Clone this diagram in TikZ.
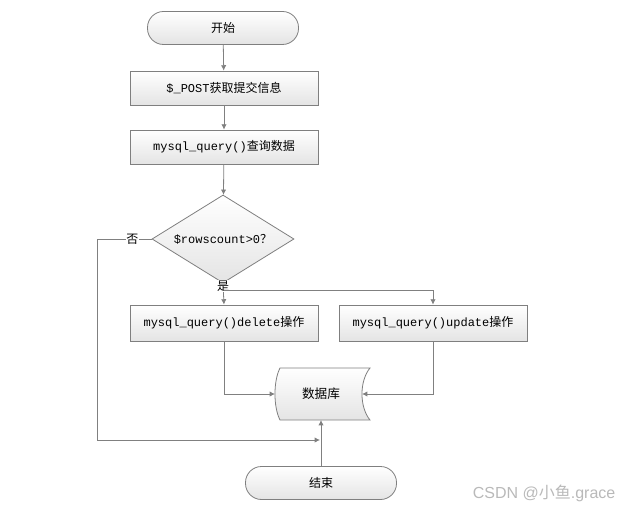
\documentclass[tikz,border=0pt]{standalone}
\usepackage{fontspec}
\setmainfont{Liberation Sans}
\newfontfamily\cjk{Noto Sans CJK SC}
\newfontfamily\mono{Liberation Mono}
\usetikzlibrary{arrows.meta,shapes.geometric}
\definecolor{edgegray}{HTML}{7F7F7F}
\definecolor{linegray}{HTML}{808080}
\definecolor{shadegray}{HTML}{E4E4E4}
\tikzset{
  shp/.style={draw=edgegray, line width=0.6pt, top color=white, bottom color=shadegray, font=\fontsize{9pt}{11pt}\selectfont, inner sep=0pt},
  term/.style={shp, rounded corners=12pt, minimum width=113.25pt, minimum height=24.75pt},
  proc/.style={shp, minimum width=141pt, minimum height=25.5pt},
  proc2/.style={shp, minimum width=141pt, minimum height=27pt},
  deci/.style={shp, diamond, minimum width=106.5pt, minimum height=66pt},
  txt/.style={inner sep=0pt, font=\fontsize{9pt}{11pt}\selectfont},
  arr/.style={draw=linegray, line width=0.6pt, -{Latex[length=4pt,width=4pt]}},
  lbl/.style={fill=white, inner sep=0.6pt, font=\cjk\fontsize{9pt}{11pt}\selectfont},
}
\begin{document}
\begin{tikzpicture}[x=0.75pt,y=-0.75pt]
\useasboundingbox (0,0) rectangle (635,513);
\node[term] (start) at (223,28) {\cjk 开始};
\node[proc] (post) at (224,88) {\mono\$\_POST\cjk 获取提交信息};
\node[proc] (query) at (224,147) {\mono mysql\_query()\cjk 查询数据};
\node[deci] (dec) at (223,239) {};
\node[txt] (dectext) at (dec.center) {\mono\$rowscount>0\cjk ？};
\node[proc2] (del) at (224,323) {\mono mysql\_query()delete\cjk 操作};
\node[proc2] (upd) at (433,323) {\mono mysql\_query()update\cjk 操作};
% database (stored data shape)
\path[shp] (280,368) -- (370,368) .. controls (359.3,381) and (359.3,407) .. (370,420) -- (280,420) .. controls (273.3,407) and (273.3,381) .. (280,368) -- cycle;
\node[minimum width=71.25pt, minimum height=39pt, inner sep=0pt, font=\cjk\fontsize{9.5pt}{11pt}\selectfont] (db) at (321,394) {数据库};
\coordinate (dbL) at (275,394);
\coordinate (dbR) at (362,394);
\node[term] (end) at (321,483) {\cjk 结束};
\coordinate (split) at (224,290);
\coordinate (noCorner) at (97,239);
\coordinate (noEnd) at (320,440);
\node[text=gray!55, font=\fontsize{12pt}{14pt}\selectfont, anchor=east] (wm) at (620,493) {CSDN @\cjk 小鱼\rmfamily .grace};
% connectors
\draw[arr] (start) -- (post);
\draw[arr] (post) -- (query);
\draw[arr] (query) -- (dec);
\draw[arr] (dec.south) -- node[pos=0.12, lbl] {是} (del.north);
\draw[arr] (split) -| (upd.north);
\draw[arr] (del.south) |- (dbL);
\draw[arr] (upd.south) |- (dbR);
\draw[arr] (end.north) -- (end.north |- 0,420);
\draw[arr] (dec.west) -- node[pos=0.35, lbl] {否} (noCorner) |- (noEnd);
\end{tikzpicture}
\end{document}
